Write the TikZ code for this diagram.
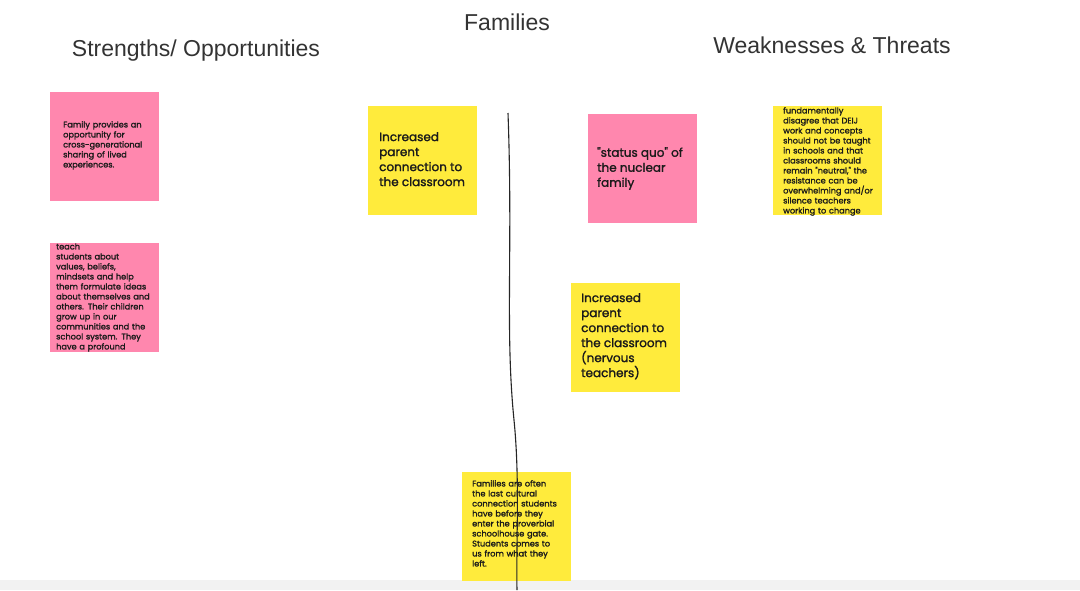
\documentclass[tikz,border=0pt]{standalone}
\usepackage{fontspec}
\setmainfont{Liberation Sans}
\newfontfamily\notefont{Poppins}[FakeBold=1.5]
\definecolor{pinknote}{HTML}{FF87AE}
\definecolor{yellownote}{HTML}{FFEB3C}
\definecolor{inkc}{HTML}{1A1A1A}
\begin{document}
\begin{tikzpicture}[x=1pt,y=-1pt,
  note/.style={minimum width=109pt,minimum height=109pt,anchor=north west,inner sep=0pt},
  txt/.style={anchor=north west,align=left,text=inkc,font=\notefont\fontsize{8.2}{10}\selectfont,inner sep=0pt},
  big/.style={txt,font=\notefont\fontsize{12}{15}\selectfont},
  title/.style={font=\fontsize{23}{26}\selectfont,text=black!80}]
\useasboundingbox[fill=white] (0,0) rectangle (1080,590);
\fill[black!5] (0,580) rectangle (1080,590);
\node[title] (tF) at (507,22) {Families};
\node[title] (tS) at (196,51) {Strengths/ Opportunities};
\node[title] (tW) at (832,45) {Weaknesses \& Threats};

\node[note,fill=pinknote] (n1) at (50,92) {};
\node[txt,text width=90pt] (t1) at (63,121) {Family provides an\\opportunity for\\cross-generational\\sharing of lived\\experiences.};

\node[note,fill=pinknote] (n2) at (50,243) {};
\begin{scope}
\clip (50,243) rectangle (159,352);
\node[txt,text width=100pt] (t2) at (56,233) {teachers. Families teach\\students about\\values, beliefs,\\mindsets and help\\them formulate ideas\\about themselves and\\others. Their children\\grow up in our\\communities and the\\school system. They\\have a profound\\impact in our\\children's lives.};
\end{scope}

\node[note,fill=yellownote] (n3) at (368,106) {};
\node[big] (t3) at (379,132) {Increased\\parent\\connection to\\the classroom};

\node[note,fill=pinknote] (n4) at (588,114) {};
\node[big] (t4) at (597,147) {"status quo" of\\the nuclear\\family};

\node[note,fill=yellownote] (n5) at (773,106) {};
\begin{scope}
\clip (773,106) rectangle (882,215);
\node[txt,text width=100pt] (t5) at (783,107) {fundamentally\\disagree that DEIJ\\work and concepts\\should not be taught\\in schools and that\\classrooms should\\remain "neutral," the\\resistance can be\\overwhelming and/or\\silence teachers\\working to change\\them.};
\end{scope}

\node[note,fill=yellownote] (n6) at (571,283) {};
\node[big] (t6) at (581,293) {Increased\\parent\\connection to\\the classroom\\(nervous\\teachers)};

\node[note,fill=yellownote] (n7) at (462,472) {};
\node[txt,text width=100pt] (t7) at (472,480) {Families are often\\the last cultural\\connection students\\have before they\\enter the proverbial\\schoolhouse gate.\\Students comes to\\us from what they\\left.};

\coordinate (l0) at (508,113);
\coordinate (l1) at (517,590);
\draw[line width=1.1pt,black!85] (l0) .. controls (513,250) and (505,330) .. (514,420) .. controls (520,480) and (516,540) .. (l1);
\end{tikzpicture}
\end{document}
